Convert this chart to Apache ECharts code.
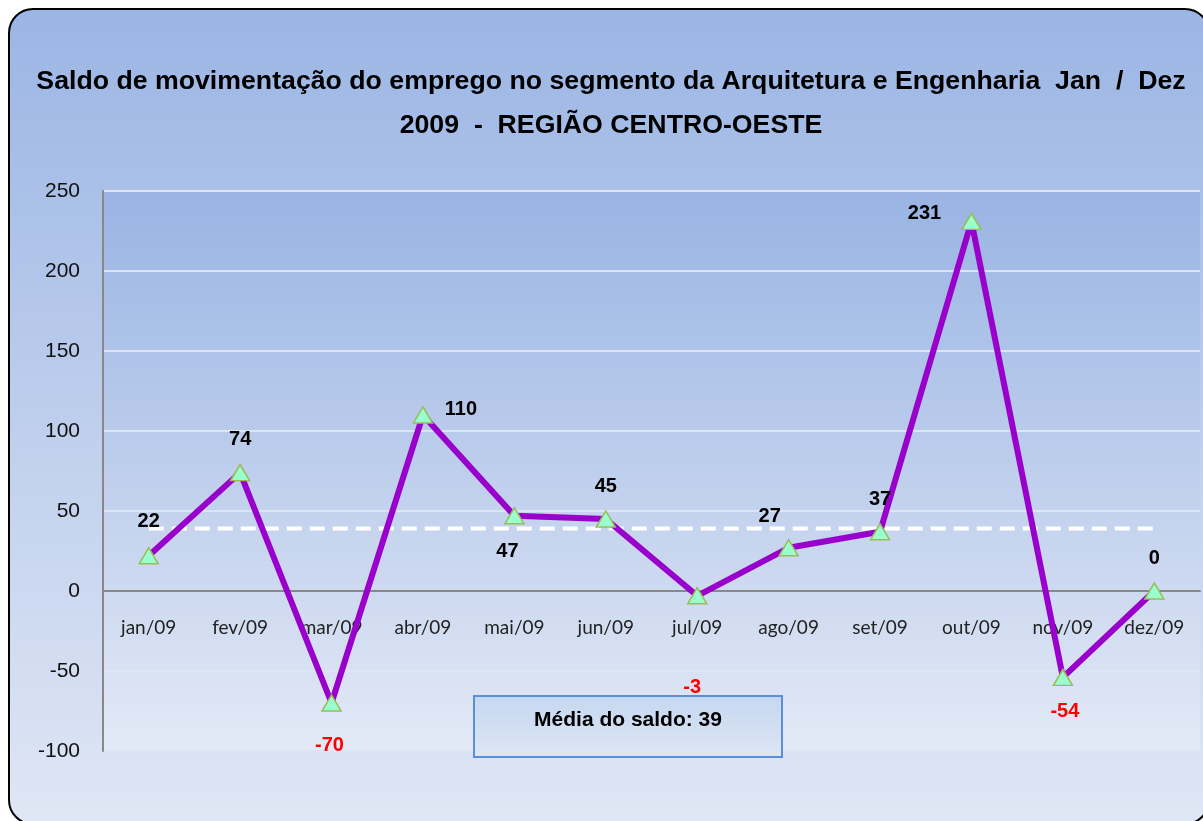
<!DOCTYPE html>
<html style="height: 100%">
<head>
  <meta charset="utf-8">
</head>
<body style="height: 100%; margin: 0; background: #fff">
  <div id="container" style="width: 1203px; height: 821px"></div>

  <script type="text/javascript" src="https://cdn.jsdelivr.net/npm/echarts@6/dist/echarts.min.js"></script>
  <script type="text/javascript">
    // data
    var months = ['jan/09', 'fev/09', 'mar/09', 'abr/09', 'mai/09', 'jun/09',
                  'jul/09', 'ago/09', 'set/09', 'out/09', 'nov/09', 'dez/09'];
    var saldo = [22, 74, -70, 110, 47, 45, -3, 27, 37, 231, -54, 0];
    var media = [39, 39, 39, 39, 39, 39, 39, 39, 39, 39, 39, 39];
    var mediaText = 'Média do saldo: 39';
    var yTicks = { min: -100, max: 250, interval: 50 };

    // where each data label sits relative to its point (manual placement in the original)
    var labelOffsets = [
      [0, -34], [0, -33], [-2, 42], [38, -6], [-7, 36], [0, -33],
      [-5, 92], [-19, -31], [0, -32], [-47, -8], [2, 34], [0, -33]
    ];

    var dom = document.getElementById('container');
    var myChart = echarts.init(dom);
    var font = '"Liberation Sans", Arial, sans-serif';

    var saldoData = saldo.map(function (v, i) {
      return {
        value: v,
        label: {
          offset: labelOffsets[i],
          color: v < 0 ? '#ff0000' : '#000000'
        }
      };
    });

    var option = {
      backgroundColor: '#ffffff',
      animation: false,
      title: {
        text: 'Saldo de movimentação do emprego no segmento da Arquitetura e Engenharia  Jan  /  Dez\n2009  -  REGIÃO CENTRO-OESTE',
        left: 606,
        top: 55,
        textAlign: 'center',
        textStyle: {
          fontFamily: font,
          fontSize: 26.7,
          fontWeight: 'bold',
          color: '#000',
          lineHeight: 44
        }
      },
      graphic: [
        {
          type: 'rect',
          z: -10,
          shape: { x: 9, y: 9, width: 1200, height: 815, r: 24 },
          style: {
            fill: new echarts.graphic.LinearGradient(0, 0, 0, 1, [
              { offset: 0, color: '#9bb5e4' },
              { offset: 1, color: '#e0e7f5' }
            ]),
            stroke: '#000',
            lineWidth: 2
          }
        },
        {
          type: 'rect',
          z: 100,
          shape: { x: 474, y: 696, width: 308, height: 61 },
          style: {
            fill: new echarts.graphic.LinearGradient(0, 0, 0, 1, [
              { offset: 0, color: '#c5d7f0' },
              { offset: 1, color: '#dde6f4' }
            ])
          }
        },
        {
          type: 'rect',
          z: 102,
          shape: { x: 474, y: 696, width: 308, height: 61 },
          style: { fill: null, stroke: '#5b8fd8', lineWidth: 2 }
        },
        {
          type: 'text',
          z: 103,
          x: 628,
          y: 720,
          style: {
            text: mediaText,
            fontFamily: font,
            fontSize: 21,
            fontWeight: 'bold',
            fill: '#000',
            align: 'center',
            verticalAlign: 'middle'
          }
        }
      ],
      grid: {
        left: 103,
        right: 3,
        top: 191,
        bottom: 70,
        show: true,
        borderWidth: 0,
        backgroundColor: new echarts.graphic.LinearGradient(0, 0, 0, 1, [
          { offset: 0, color: '#99b4e3' },
          { offset: 1, color: '#e3e9f6' }
        ])
      },
      xAxis: {
        type: 'category',
        data: months,
        boundaryGap: true,
        // sits on the zero line, labels just under it
        offset: -160,
        axisLine: { onZero: false, lineStyle: { color: '#888888', width: 2 } },
        axisTick: { show: false },
        axisLabel: {
          margin: 27,
          fontFamily: 'Lato, Carlito, sans-serif',
          fontSize: 19,
          color: '#222'
        },
        splitLine: { show: false }
      },
      yAxis: {
        type: 'value',
        min: yTicks.min,
        max: yTicks.max,
        interval: yTicks.interval,
        axisLine: { show: true, lineStyle: { color: '#888888', width: 2 } },
        axisTick: { show: false },
        axisLabel: {
          margin: 23,
          fontFamily: font,
          fontSize: 21,
          color: '#111'
        },
        splitLine: { lineStyle: { color: '#dde5f4', width: 2 } }
      },
      series: [
        {
          name: 'Média',
          type: 'line',
          data: media,
          showSymbol: false,
          silent: true,
          z: 2,
          lineStyle: { color: '#ffffff', width: 4, type: [15, 8] }
        },
        {
          name: 'Saldo',
          type: 'line',
          data: saldoData,
          z: 3,
          symbol: 'triangle',
          symbolSize: [19, 16],
          lineStyle: { color: '#9900cc', width: 6 },
          itemStyle: { color: '#99ffcc', borderColor: '#9bbb59', borderWidth: 1.5 },
          label: {
            show: true,
            position: 'inside',
            fontFamily: font,
            fontSize: 20,
            fontWeight: 'bold'
          }
        }
      ]
    };

    myChart.setOption(option);
  </script>
</body>
</html>
